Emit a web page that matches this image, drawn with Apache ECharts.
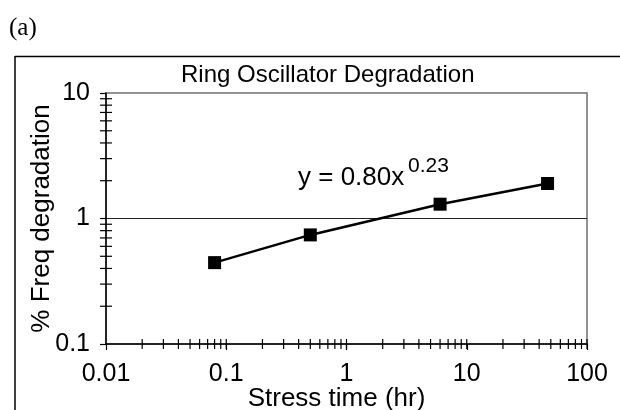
<!DOCTYPE html>
<html>
<head>
<meta charset="utf-8">
<script src="https://cdn.jsdelivr.net/npm/echarts@6/dist/echarts.min.js"></script>
<style>
  html, body { margin: 0; padding: 0; background: #fff; }
  #chart { width: 620px; height: 410px; }
</style>
</head>
<body>
<div id="chart"></div>
<script>
// Measured ring oscillator frequency degradation versus stress time
const stressHours = [0.08, 0.5, 6, 47];
const freqDegradation = [0.445, 0.74, 1.30, 1.90];

// Axis ranges (log decades)
const xRange = [0.01, 100];
const yRange = [0.1, 10];

const fitLabel = 'y = 0.80x';
const fitExponent = '0.23';

const FONT = '"Liberation Sans", Arial, Helvetica, sans-serif';

// Minor tick positions (2..9 within each decade) plus the inner half of major x ticks
function decadeTicks(lo, hi, includeMajor) {
  const out = [];
  for (let p = Math.round(Math.log10(lo)); p < Math.round(Math.log10(hi)); p++) {
    const base = Math.pow(10, p);
    for (let m = 2; m <= 9; m++) out.push(+(m * base).toPrecision(3));
    if (includeMajor) out.push(+(10 * base).toPrecision(3));
  }
  return out;
}
const xMinorTicks = decadeTicks(xRange[0], xRange[1], true);
const yMinorTicks = decadeTicks(yRange[0], yRange[1], false);

const chart = echarts.init(document.getElementById('chart'), null, { renderer: 'canvas' });

const tickColor = '#000';

chart.setOption({
  animation: false,
  backgroundColor: '#fff',
  textStyle: { fontFamily: FONT },
  grid: {
    left: 106, right: 33, top: 93, bottom: 66,
    containLabel: false,
    outerBoundsMode: 'none',
    show: true,
    borderColor: '#707070',
    borderWidth: 1.5,
    backgroundColor: 'transparent'
  },
  xAxis: {
    type: 'log', logBase: 10, min: xRange[0], max: xRange[1],
    name: 'Stress time (hr)', nameLocation: 'middle', nameGap: 42, nameMoveOverlap: false,
    nameTextStyle: { fontSize: 26, color: '#000', fontFamily: FONT, padding: [0, 20, 0, 0] },
    axisLine: { show: true, lineStyle: { color: '#000', width: 1.5 } },
    axisTick: { show: true, inside: false, length: 6, lineStyle: { color: tickColor, width: 1.2 } },
    axisLabel: { fontSize: 25, color: '#000', margin: 18, fontFamily: FONT },
    splitLine: { show: false },
    minorTick: { show: false }
  },
  yAxis: {
    type: 'log', logBase: 10, min: yRange[0], max: yRange[1],
    name: '% Freq degradation', nameLocation: 'middle', nameGap: 51, nameRotate: 90, nameMoveOverlap: false,
    nameTextStyle: { fontSize: 26, color: '#000', fontFamily: FONT },
    axisLine: { show: true, lineStyle: { color: '#000', width: 1.5 } },
    axisTick: { show: true, inside: false, length: 6, lineStyle: { color: tickColor, width: 1.2 } },
    axisLabel: { fontSize: 25, color: '#000', margin: 16, fontFamily: FONT },
    splitLine: { show: true, lineStyle: { color: ['transparent', '#222', 'transparent'], width: 1.2 } },
    minorTick: { show: false }
  },
  graphic: [
    { type: 'line', shape: { x1: 15, y1: 56.5, x2: 620, y2: 56.5 }, style: { stroke: '#000', lineWidth: 1.5 }, silent: true },
    { type: 'line', shape: { x1: 15, y1: 56, x2: 15, y2: 410 }, style: { stroke: '#000', lineWidth: 1.5 }, silent: true },
    { type: 'text', x: 9, y: 28, style: { text: '(a)', font: '25px "Liberation Serif", "Times New Roman", serif', fill: '#000', textAlign: 'left', textVerticalAlign: 'middle' } },
    { type: 'text', x: 181, y: 75, style: { text: 'Ring Oscillator Degradation', font: '24px ' + FONT, fill: '#000', textAlign: 'left', textVerticalAlign: 'middle' } },
    { type: 'text', x: 298, y: 178, style: { text: fitLabel, font: '26px ' + FONT, fill: '#000', textAlign: 'left', textVerticalAlign: 'middle' } },
    { type: 'text', x: 408, y: 166, style: { text: fitExponent, font: '21px ' + FONT, fill: '#000', textAlign: 'left', textVerticalAlign: 'middle' } }
  ],
  series: [
    {
      name: 'x ticks', type: 'custom', silent: true, z: 5, clip: false,
      data: xMinorTicks,
      renderItem: function (params, api) {
        const p = api.coord([api.value(0), yRange[0]]);
        return { type: 'line', shape: { x1: p[0], y1: p[1] - 5, x2: p[0], y2: p[1] + 5 }, style: { stroke: tickColor, lineWidth: 1.2 } };
      }
    },
    {
      name: 'y ticks', type: 'custom', silent: true, z: 5, clip: false,
      data: yMinorTicks.map(v => [xRange[0], v]),
      renderItem: function (params, api) {
        const p = api.coord([xRange[0], api.value(1)]);
        return { type: 'line', shape: { x1: p[0] - 6, y1: p[1], x2: p[0] + 6, y2: p[1] }, style: { stroke: tickColor, lineWidth: 1.2 } };
      }
    },
    {
      name: 'Ring oscillator', type: 'line', z: 10,
      data: stressHours.map((x, i) => [x, freqDegradation[i]]),
      symbol: 'rect', symbolSize: 13,
      itemStyle: { color: '#000' },
      lineStyle: { color: '#000', width: 2.5 }
    }
  ]
});
</script>
</body>
</html>
